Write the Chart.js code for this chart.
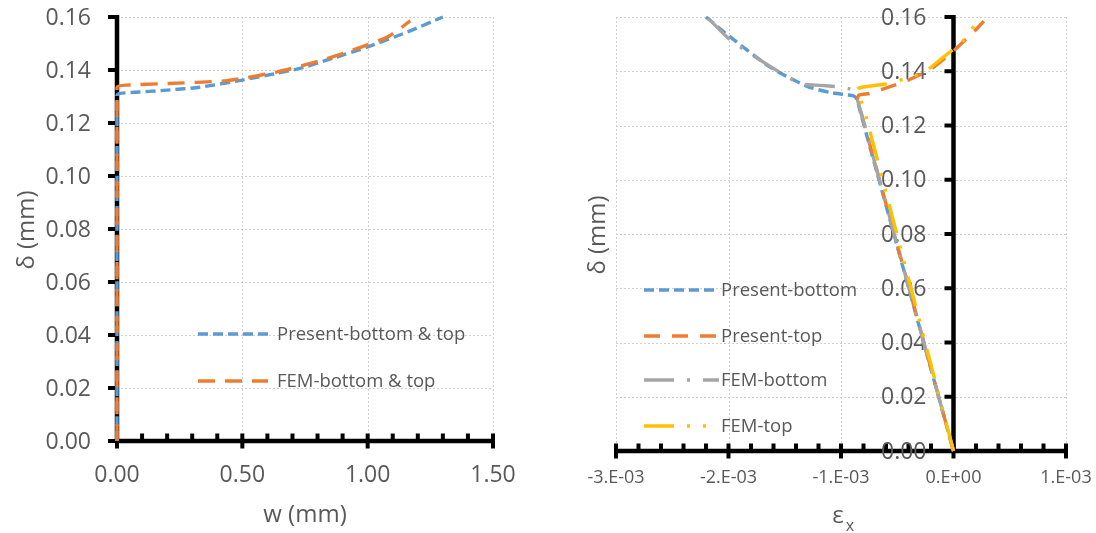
<!DOCTYPE html>
<html lang="en">
<head>
<meta charset="UTF-8">
<title>δ – w / εx</title>
<script src="https://cdn.jsdelivr.net/npm/chart.js"></script>
<style>
  html, body { margin: 0; padding: 0; background: #fff; }
  .wrap { position: relative; width: 1096px; height: 533px; }
  .panel { position: absolute; top: 0; width: 548px; height: 533px; }
  #leftPanel { left: 0; }
  #rightPanel { left: 548px; }
</style>
</head>
<body>
<div class="wrap">
  <div class="panel" id="leftPanel"><canvas id="wChart" width="548" height="533"></canvas></div>
  <div class="panel" id="rightPanel"><canvas id="epsChart" width="548" height="533"></canvas></div>
</div>
<script>
// ---- left: w (mm) vs δ (mm)
const presentW     = [0, 0, 0.012, 0.09, 0.20, 0.33, 0.50, 0.64, 0.73, 0.86, 1.00, 1.16, 1.30];
const presentDelta = [0, 0.1305, 0.1312, 0.1317, 0.1324, 0.1335, 0.1362, 0.1388, 0.1406, 0.1444, 0.1487, 0.1544, 0.1600];
const femW         = [0, 0, 0.04, 0.20, 0.44, 0.64, 0.81, 0.94, 1.08, 1.17];
const femDelta     = [0, 0.1335, 0.1343, 0.1349, 0.1360, 0.1393, 0.1435, 0.1475, 0.1525, 0.1585];

const wTicks      = [0, 0.5, 1.0, 1.5];
const wTickLabels = ['0.00', '0.50', '1.00', '1.50'];

// ---- right: εx vs δ (mm)
const presBotEps   = [-0.00220, -0.00198, -0.00163, -0.00130, -0.00110, -0.00095, -0.000886, -0.000855, -0.00084, 0];
const presBotDelta = [0.1600, 0.1525, 0.1415, 0.1344, 0.1322, 0.1313, 0.1309, 0.1295, 0.1268, 0];
const presTopEps   = [0, -0.000827, -0.000855, -0.00084, -0.00075, -0.00068, -0.00055, -0.00041, -0.00020, 0.0000, 0.00018, 0.00027];
const presTopDelta = [0, 0.1256, 0.1295, 0.1312, 0.1318, 0.1327, 0.1345, 0.1366, 0.1408, 0.1475, 0.1545, 0.1585];
const femBotEps    = [-0.00218, -0.00198, -0.00163, -0.00136, -0.00118, -0.00103, -0.00093, -0.00089, -0.000871, -0.000827, 0];
const femBotDelta  = [0.1595, 0.1514, 0.1418, 0.1354, 0.1348, 0.1343, 0.1336, 0.1328, 0.1317, 0.1256, 0];
const femTopEps    = [0, -0.00078, -0.00083, -0.00086, -0.00084, -0.00075, -0.00062, -0.00045, -0.00026, -0.00009, 0.00006, 0.00015, 0.000225];
const femTopDelta  = [0, 0.1237, 0.1300, 0.1328, 0.1338, 0.1345, 0.1352, 0.1370, 0.1397, 0.1452, 0.1502, 0.1545, 0.1600];

const epsTicks      = [-0.003, -0.002, -0.001, 0, 0.001];
const epsTickLabels = ['-3.E-03', '-2.E-03', '-1.E-03', '0.E+00', '1.E-03'];

// shared δ axis
const deltaTicks      = [0, 0.02, 0.04, 0.06, 0.08, 0.10, 0.12, 0.14, 0.16];
const deltaTickLabels = ['0.00', '0.02', '0.04', '0.06', '0.08', '0.10', '0.12', '0.14', '0.16'];

const FONT = '"Open Sans", "Noto Sans", sans-serif';
const GREY_TEXT = '#595959';

const zip = (xs, ys) => xs.map((x, i) => ({ x: x, y: ys[i] }));

function minorsBetween(major, parts) {
  const out = [];
  for (let i = 0; i < major.length - 1; i++) {
    const step = (major[i + 1] - major[i]) / parts;
    for (let k = 1; k < parts; k++) out.push(major[i] + k * step);
  }
  return out;
}

function series(label, xs, ys, color, dash, order) {
  return {
    label: label,
    data: zip(xs, ys),
    showLine: true,
    borderColor: color,
    backgroundColor: color,
    borderWidth: 3.4,
    borderDash: dash,
    pointRadius: 0,
    tension: 0.2,
    clip: 6,
    order: order
  };
}

// Excel-style axes: gridlines, thick black axes crossing at 0, ticks, labels, titles, legend
function axisDecor(cfg) {
  return {
    id: 'axisDecor',
    beforeDatasetsDraw(chart) {
      const ctx = chart.ctx, xs = chart.scales.x, ys = chart.scales.y, a = chart.chartArea;
      const seg = (x1, y1, x2, y2) => { ctx.beginPath(); ctx.moveTo(x1, y1); ctx.lineTo(x2, y2); ctx.stroke(); };
      ctx.save();

      ctx.strokeStyle = '#d0d0d0';
      ctx.lineWidth = 1;
      ctx.setLineDash([2, 2]);
      cfg.xTicks.forEach(v => { const p = Math.round(xs.getPixelForValue(v)) + 0.5; seg(p, a.top, p, a.bottom); });
      deltaTicks.forEach(v => { const p = Math.round(ys.getPixelForValue(v)) + 0.5; seg(a.left, p, a.right, p); });
      ctx.setLineDash([]);

      const x0 = xs.getPixelForValue(0), y0 = ys.getPixelForValue(0);
      ctx.strokeStyle = '#000';
      ctx.lineWidth = 4.5;
      seg(x0, a.top - 2, x0, y0);
      seg(a.left - 2, y0, a.right + 2, y0);

      ctx.lineWidth = 4;
      deltaTicks.forEach(v => { const p = ys.getPixelForValue(v); seg(x0 - 9, p, x0, p); });
      cfg.xTicks.forEach(v => { const p = xs.getPixelForValue(v); seg(p, y0 - 7.5, p, y0 + 7.5); });
      cfg.xMinor.forEach(v => { const p = xs.getPixelForValue(v); seg(p, y0 - 7.5, p, y0); });

      ctx.fillStyle = GREY_TEXT;
      ctx.font = '23px ' + FONT;
      ctx.textAlign = 'right';
      ctx.textBaseline = 'middle';
      deltaTicks.forEach((v, i) => ctx.fillText(deltaTickLabels[i], x0 - cfg.yLabelGap, ys.getPixelForValue(v) + 1));

      ctx.font = cfg.xFont + ' ' + FONT;
      ctx.textAlign = 'center';
      cfg.xTicks.forEach((v, i) => ctx.fillText(cfg.xLabels[i], xs.getPixelForValue(v), y0 + cfg.xLabelGap));

      // axis titles
      ctx.font = '24px ' + FONT;
      ctx.save();
      ctx.translate(cfg.yTitleAt[0], cfg.yTitleAt[1]);
      ctx.rotate(-Math.PI / 2);
      ctx.fillText('δ (mm)', 0, 0);
      ctx.restore();
      cfg.drawXTitle(ctx);

      ctx.restore();
    },
    afterDatasetsDraw(chart) {
      const ctx = chart.ctx;
      ctx.save();
      chart.data.datasets.forEach((ds, i) => {
        const y = cfg.legend.rows[i];
        ctx.strokeStyle = ds.borderColor;
        ctx.lineWidth = ds.borderWidth;
        ctx.setLineDash(ds.borderDash);
        ctx.beginPath();
        ctx.moveTo(cfg.legend.x1, y);
        ctx.lineTo(cfg.legend.x2, y);
        ctx.stroke();
        ctx.setLineDash([]);
        ctx.fillStyle = GREY_TEXT;
        ctx.font = '18.5px ' + FONT;
        ctx.textAlign = 'left';
        ctx.textBaseline = 'middle';
        ctx.fillText(ds.label, cfg.legend.textX, y + 1);
      });
      ctx.restore();
    }
  };
}

function makeChart(id, datasets, xMin, xMax, padding, cfg) {
  return new Chart(document.getElementById(id), {
    type: 'scatter',
    data: { datasets: datasets },
    options: {
      responsive: false,
      animation: false,
      devicePixelRatio: 1,
      layout: { padding: padding },
      plugins: { legend: { display: false }, tooltip: { enabled: false } },
      scales: {
        x: { type: 'linear', min: xMin, max: xMax, display: false },
        y: { type: 'linear', min: 0, max: 0.16, display: false }
      }
    },
    plugins: [axisDecor(cfg)]
  });
}

makeChart('wChart', [
  series('Present-bottom & top', presentW, presentDelta, '#5B9BD5', [10, 5], 2),
  series('FEM-bottom & top', femW, femDelta, '#ED7D31', [17, 10], 1)
], 0, 1.5, { left: 117, right: 55, top: 17, bottom: 92 }, {
  xTicks: wTicks,
  xLabels: wTickLabels,
  xMinor: minorsBetween(wTicks, 5),
  xFont: '23px',
  xLabelGap: 34,
  yLabelGap: 26,
  yTitleAt: [27, 230],
  drawXTitle(ctx) { ctx.fillText('w (mm)', 305, 515); },
  legend: { x1: 198, x2: 268, textX: 277, rows: [334, 381] }
});

makeChart('epsChart', [
  series('Present-bottom', presBotEps, presBotDelta, '#5B9BD5', [10, 5], 4),
  series('Present-top', presTopEps, presTopDelta, '#ED7D31', [16, 12], 3),
  series('FEM-bottom', femBotEps, femBotDelta, '#A5A5A5', [30, 13, 3, 13], 2),
  series('FEM-top', femTopEps, femTopDelta, '#FFC000', [30, 13, 3, 13, 3, 13], 1)
], -0.003, 0.001, { left: 68, right: 30, top: 17, bottom: 82 }, {
  xTicks: epsTicks,
  xLabels: epsTickLabels,
  xMinor: minorsBetween(epsTicks, 5),
  xFont: '18px',
  xLabelGap: 27,
  yLabelGap: 27,
  yTitleAt: [50, 235],
  drawXTitle(ctx) {
    ctx.fillText('ε', 290, 516);
    ctx.font = '16px ' + FONT;
    ctx.fillText('x', 302, 526);
  },
  legend: { x1: 96, x2: 171, textX: 173, rows: [290, 336, 380, 426] }
});
</script>
</body>
</html>
